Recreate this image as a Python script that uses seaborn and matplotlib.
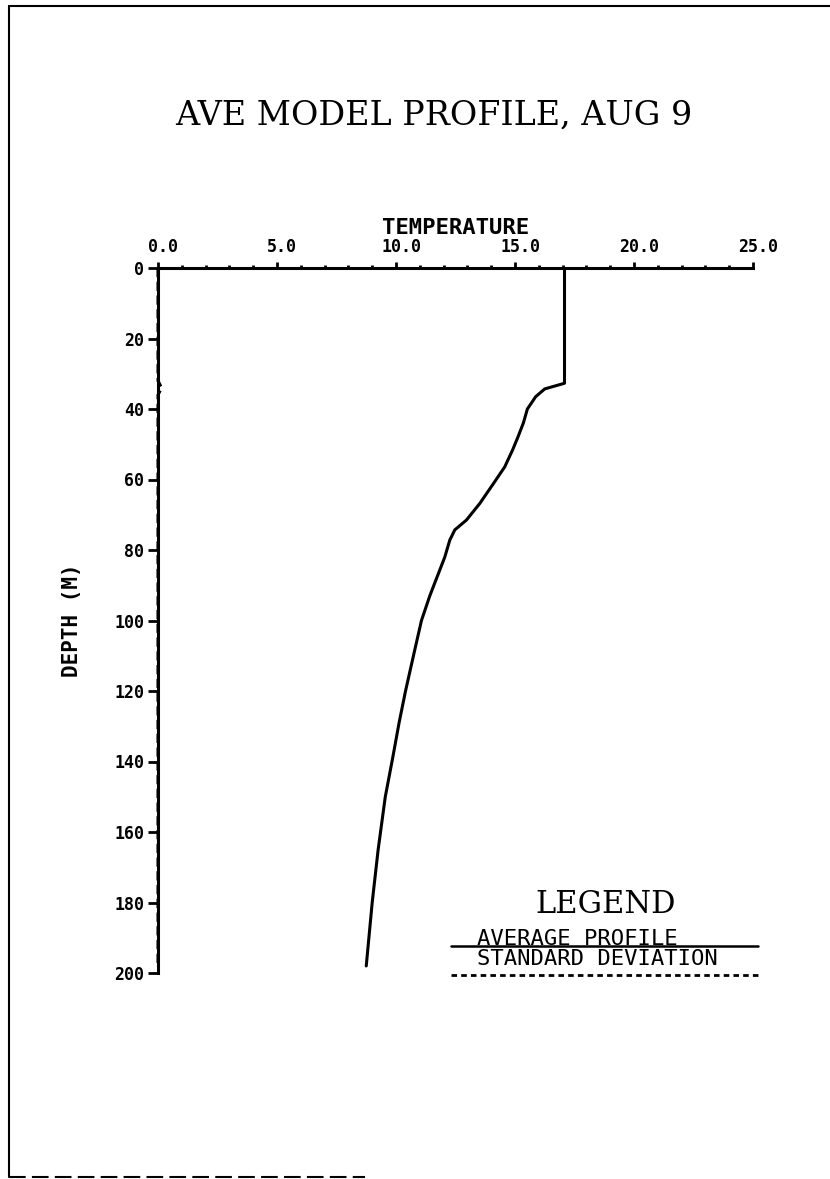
import matplotlib
matplotlib.use("Agg")
import matplotlib.pyplot as plt
import matplotlib.transforms as mtransforms
import numpy as np
import pandas as pd
import seaborn as sns
from matplotlib.lines import Line2D

# Valores (temperatura vs profundidad)
depth = [0, 32.7, 34.3, 36.5, 40, 44, 48, 51.6, 56.4, 60.6, 66.8, 71.5, 74.3,
         77.2, 82, 93, 100, 108, 120, 129, 139, 150, 165, 180, 198]
temp = [17.08, 17.08, 16.25, 15.87, 15.52, 15.35, 15.12, 14.9, 14.57, 14.15,
        13.52, 12.96, 12.47, 12.26, 12.05, 11.42, 11.07, 10.8, 10.4, 10.13,
        9.86, 9.55, 9.25, 9.0, 8.75]

std_depth = [0, 32, 34, 36, 198]
std_dev = [0.0, 0.0, 0.15, 0.0, 0.0]

x_ticks = [0, 5, 10, 15, 20, 25]
x_ticklabels = ["0.0", "5.0", "10.0", "15.0", "20.0", "25.0"]
y_ticks = list(range(0, 201, 20))

title = "AVE MODEL PROFILE, AUG 9"
legend_labels = ["AVERAGE PROFILE", "STANDARD DEVIATION"]

sns.set_style("white")
plt.rcParams["font.family"] = ["DejaVu Sans Mono", "DejaVu Sans"]
plt.rcParams["text.color"] = "black"
plt.rcParams["axes.labelcolor"] = "black"
plt.rcParams["xtick.color"] = "black"
plt.rcParams["ytick.color"] = "black"

W, H = 830, 1179
fig = plt.figure(figsize=(W / 100, H / 100), dpi=100)

# ejes en pixeles: x 158..753, y 268..973
ax = fig.add_axes([158 / W, 1 - 973 / H, (753 - 158) / W, (973 - 268) / H])

prof = pd.DataFrame({"temp": temp, "depth": depth})
sns.lineplot(data=prof, x="temp", y="depth", sort=False, estimator=None,
             color="black", linewidth=2.2, ax=ax)
sd = pd.DataFrame({"temp": std_dev, "depth": std_depth})
sns.lineplot(data=sd, x="temp", y="depth", sort=False, estimator=None,
             color="black", linewidth=2.2, linestyle=(0, (3, 1.5)), ax=ax,
             clip_on=False)

ax.set_xlim(0, 25)
ax.set_ylim(200, 0)
ax.xaxis.tick_top()
ax.xaxis.set_label_position("top")
ax.set_xticks(x_ticks)
ax.set_xticklabels(x_ticklabels)
ax.set_xticks(np.arange(0, 26, 1), minor=True)
ax.set_yticks(y_ticks)
ax.set_yticklabels([str(v) for v in y_ticks])

for side in ["right", "bottom"]:
    ax.spines[side].set_visible(False)
for side in ["left", "top"]:
    ax.spines[side].set_linewidth(2.2)
    ax.spines[side].set_color("black")

ax.tick_params(axis="x", which="major", direction="out", length=4, width=2,
               pad=5, labelsize=12, top=True, bottom=False)
ax.tick_params(axis="x", which="minor", direction="out", length=2.5, width=2,
               top=True, bottom=False)
ax.tick_params(axis="y", which="major", direction="out", length=7, width=2,
               pad=3, labelsize=12, left=True)

# etiquetas de x algo desplazadas a la derecha, como en el plotter
shift = mtransforms.ScaledTranslation(5 / 100, 0, fig.dpi_scale_trans)
for lab in ax.get_xticklabels():
    lab.set_fontweight("bold")
    lab.set_transform(lab.get_transform() + shift)
for lab in ax.get_yticklabels():
    lab.set_fontweight("bold")

ax.set_xlabel("TEMPERATURE", fontsize=16, fontweight="bold")
ax.set_ylabel("DEPTH (M)", fontsize=15, fontweight="bold")
ax.xaxis.set_label_coords(0.5, 1 + (268 - 234) / 705)
ax.yaxis.set_label_coords((82 - 158) / 595, 0.5)

# leyenda dibujada a mano como en el original
ax.text(18.8, 180.7, "LEGEND", family="DejaVu Serif", fontsize=22,
        ha="center", va="center")
ax.text(13.4, 192.0, legend_labels[0], fontsize=16, ha="left", va="baseline")
ax.plot([12.3, 25.2], [192.4, 192.4], color="black", lw=1.8, clip_on=False)
ax.text(13.4, 197.8, legend_labels[1], fontsize=16, ha="left",
        va="baseline")
ax.plot([12.3, 25.2], [200.5, 200.5], color="black", lw=2,
        linestyle=(0, (2, 1.5)), clip_on=False)

fig.text(434 / W, 1 - 116 / H, title, family="DejaVu Serif", fontsize=24,
         ha="center", va="center")

# borde de la pagina escaneada
fig.add_artist(Line2D([9 / W, 9 / W], [1 - 6 / H, 1 - 1177 / H],
                      transform=fig.transFigure, color="black", lw=1.5))
fig.add_artist(Line2D([9 / W, 1], [1 - 6 / H, 1 - 6 / H],
                      transform=fig.transFigure, color="black", lw=1.5))
fig.add_artist(Line2D([9 / W, 365 / W], [1 - 1177 / H, 1 - 1177 / H],
                      transform=fig.transFigure, color="black", lw=1.5,
                      linestyle=(0, (8, 3))))

fig.savefig("out.png", dpi=100, facecolor="white")
